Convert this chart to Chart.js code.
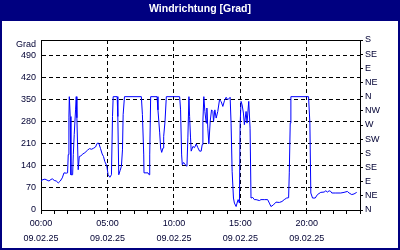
<!DOCTYPE html>
<html>
<head>
<meta charset="utf-8">
<script src="https://cdn.jsdelivr.net/npm/chart.js@4.4.1/dist/chart.umd.min.js"></script>
<style>
  html, body { margin: 0; padding: 0; background: #fff; }
  #chart { display: block; }
</style>
</head>
<body>
<canvas id="chart" width="400" height="250"></canvas>
<script>
// hours since 00:00 on 09.02.25 and wind direction in degrees
const hours = [
  0.00, 0.10, 0.30, 0.45, 0.60, 0.75, 0.85, 1.00, 1.15, 1.30, 1.45, 1.60, 1.73, 1.90, 2.00,
  2.05, 2.10, 2.13, 2.20, 2.25, 2.38, 2.43, 2.50, 2.60, 2.65, 2.70, 2.80, 2.88, 3.00, 3.15,
  3.30, 3.50, 3.65, 3.80, 3.95, 4.10, 4.23, 4.35, 4.48, 4.60, 4.70, 4.80, 4.95, 5.05, 5.18,
  5.30, 5.38, 5.43, 5.73, 5.78, 5.85, 5.95, 6.05, 6.13, 6.18, 6.28, 7.55, 7.63, 7.73, 7.75,
  8.05, 8.13, 8.18, 8.25, 8.73, 8.80, 8.93, 9.00, 9.08, 9.18, 9.23, 9.33, 9.43, 10.43, 10.50,
  10.58, 10.63, 10.73, 10.85, 10.98, 11.05, 11.13, 11.18, 11.25, 11.30, 11.43, 11.55, 11.68, 11.80, 11.93,
  12.05, 12.13, 12.18, 12.25, 12.33, 12.43, 12.48, 12.55, 12.63, 12.73, 12.83, 12.93, 12.98, 13.08, 13.18,
  13.30, 13.43, 13.55, 13.68, 13.80, 13.93, 14.05, 14.23, 14.30, 14.38, 14.48, 14.55, 14.68, 14.75, 14.83,
  14.93, 14.98, 15.05, 15.13, 15.23, 15.30, 15.43, 15.50, 15.63, 15.73, 15.80, 15.93, 16.05, 16.18, 16.43,
  16.55, 16.80, 17.05, 17.18, 17.30, 17.48, 17.68, 17.93, 18.13, 18.30, 18.48, 18.63, 18.68, 18.75, 18.80,
  20.13, 20.23, 20.30, 20.43, 20.63, 20.80, 21.05, 21.30, 21.43, 21.55, 21.68, 21.80, 21.88, 22.18, 22.55,
  22.80, 23.05, 23.18, 23.38, 23.55, 23.75
];
const degrees = [
  90, 96, 98, 95, 92, 97, 99, 94, 92, 86, 92, 102, 118, 117, 118,
  176, 295, 360, 297, 112, 112, 176, 240, 318, 360, 293, 128, 170, 172, 178,
  182, 190, 195, 193, 196, 200, 212, 212, 195, 178, 170, 154, 140, 112, 104,
  112, 297, 360, 360, 297, 112, 125, 139, 191, 303, 360, 360, 303, 175, 118,
  118, 112, 175, 360, 360, 318, 245, 197, 183, 197, 234, 281, 360, 360, 318,
  175, 144, 151, 144, 139, 229, 360, 297, 229, 187, 202, 198, 210, 198, 187,
  187, 208, 281, 360, 313, 276, 324, 260, 210, 281, 318, 313, 281, 318, 292,
  313, 350, 345, 329, 347, 358, 350, 358, 276, 123, 38, 22, 11, 22, 33,
  22, 271, 345, 334, 308, 271, 313, 276, 345, 260, 38, 40, 33, 33, 30,
  33, 33, 33, 22, 11, 16, 25, 24, 27, 33, 38, 39, 118, 276, 360,
  360, 276, 54, 38, 38, 49, 56, 57, 61, 57, 61, 59, 54, 54, 54,
  56, 59, 54, 49, 51, 56
];

const leftTicks = [0, 70, 140, 210, 280, 350, 420, 490];
const dirTicks = [0, 45, 90, 135, 180, 225, 270, 315, 360, 405, 450, 495, 540];
const dirLabels = ['N', 'NE', 'E', 'SE', 'S', 'SW', 'W', 'NW', 'N', 'NE', 'E', 'SE', 'S'];
const timeLabels = ['00:00', '05:00', '10:00', '15:00', '20:00'];
const dateLabel = '09.02.25';
const unitLabel = 'Grad';

const navy = '#000080';
const textColor = '#000033';
const tickFont = { family: 'Liberation Sans', size: 9 };

const frame = {
  id: 'frame',
  beforeDraw(chart) {
    const ctx = chart.ctx;
    ctx.save();
    ctx.fillStyle = '#fff';
    ctx.fillRect(0, 0, chart.width, chart.height);
    ctx.fillStyle = navy;
    ctx.fillRect(0, 0, chart.width, 21);
    ctx.strokeStyle = navy;
    ctx.lineWidth = 2;
    ctx.strokeRect(1, 1, chart.width - 2, chart.height - 2);
    ctx.restore();
  },
  afterDraw(chart) {
    const { ctx, chartArea: a } = chart;
    ctx.save();
    ctx.strokeStyle = '#000';
    ctx.lineWidth = 1;
    ctx.beginPath();
    ctx.moveTo(a.left, a.top + 0.5);
    ctx.lineTo(a.right, a.top + 0.5);
    ctx.stroke();
    ctx.fillStyle = textColor;
    ctx.font = '9px "Liberation Sans"';
    ctx.textAlign = 'right';
    ctx.textBaseline = 'middle';
    ctx.fillText(unitLabel, a.left - 5, a.top + 5);
    ctx.restore();
  }
};

new Chart(document.getElementById('chart'), {
  type: 'line',
  data: {
    datasets: [{
      data: hours.map((h, i) => ({ x: h, y: degrees[i] })),
      borderColor: '#0000ff',
      borderWidth: 1,
      pointRadius: 0,
      tension: 0,
      fill: false
    }]
  },
  options: {
    responsive: false,
    devicePixelRatio: 1,
    animation: false,
    layout: { padding: 0 },
    plugins: {
      legend: { display: false },
      tooltip: { enabled: false },
      title: {
        display: true,
        text: 'Windrichtung [Grad]',
        color: '#fff',
        font: { family: 'Liberation Sans', size: 10.5, weight: 'bold', lineHeight: 14 / 10.5 },
        padding: { top: 2, bottom: 24 }
      }
    },
    scales: {
      x: {
        type: 'linear',
        min: 0,
        max: 24,
        afterFit: s => { s.height = 40; },
        ticks: {
          stepSize: 1,
          autoSkip: false,
          maxRotation: 0,
          padding: 2,
          color: textColor,
          font: { ...tickFont, lineHeight: 15 / 9 },
          callback: v => (v % 5 === 0 && v < 24) ? [timeLabels[v / 5], dateLabel] : ''
        },
        grid: {
          color: c => (c.tick && c.tick.value % 5 === 0 && c.tick.value > 0 && c.tick.value < 24) ? '#000' : 'rgba(0,0,0,0)',
          tickColor: '#000',
          tickLength: 4
        },
        border: { color: '#000', dash: [4, 3] }
      },
      y: {
        position: 'left',
        min: 0,
        max: 540,
        afterFit: s => { s.width = 41; },
        afterBuildTicks: s => { s.ticks = leftTicks.map(v => ({ value: v })); },
        ticks: { padding: 5, color: textColor, font: tickFont },
        grid: {
          color: c => (c.tick && c.tick.value === 0) ? 'rgba(0,0,0,0)' : '#000',
          drawTicks: false
        },
        border: { color: '#000', dash: [4, 3] }
      },
      dir: {
        position: 'right',
        min: 0,
        max: 540,
        afterFit: s => { s.width = 40; },
        afterBuildTicks: s => { s.ticks = dirTicks.map(v => ({ value: v })); },
        ticks: {
          padding: 2,
          color: textColor,
          font: tickFont,
          callback: (v, i) => dirLabels[i]
        },
        grid: { drawOnChartArea: false, tickColor: '#000', tickLength: 3 },
        border: { color: '#000' }
      }
    }
  },
  plugins: [frame]
});
</script>
</body>
</html>
